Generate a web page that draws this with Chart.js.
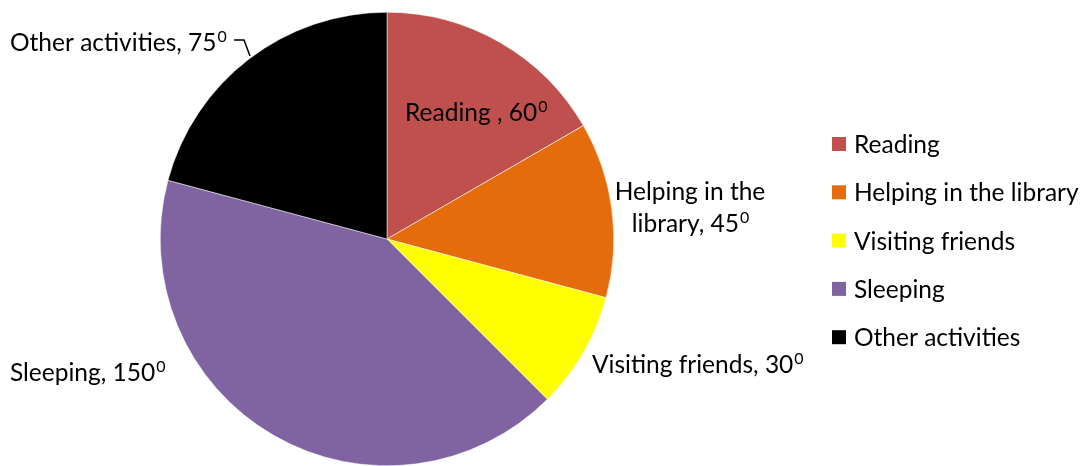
<!DOCTYPE html>
<html>
<head>
<meta charset="utf-8">
<script src="https://cdn.jsdelivr.net/npm/chart.js@4"></script>
<style>
  html, body { margin: 0; padding: 0; background: #fff; }
  #wrap { width: 1087px; height: 466px; }
</style>
</head>
<body>
<div id="wrap"><canvas id="pie"></canvas></div>
<script>
const activities = ["Reading", "Helping in the library", "Visiting friends", "Sleeping", "Other activities"];
const degrees = [60, 45, 30, 150, 75];
const colors = ["#C0504D", "#E46C0A", "#FFFF00", "#8064A2", "#000000"];

// slice label text lines (last line gets the value + degree mark)
const labelLines = [
  ["Reading , "],
  ["Helping in the", "library, "],
  ["Visiting friends, "],
  ["Sleeping, "],
  ["Other activities, "]
];
// x, y (baseline of first line), align
const labelPos = [
  [405, 121, "left"],
  [690, 200, "center"],
  [592, 373, "left"],
  [10, 381, "left"],
  [10, 51, "left"]
];

const FONT = "Lato, 'Noto Sans', sans-serif";
const SIZE = 24.5;

function textWithDeg(ctx, text, value, x, y, align) {
  ctx.font = SIZE + "px " + FONT;
  const main = text + value;
  const w1 = ctx.measureText(main).width;
  ctx.font = Math.round(SIZE * 0.65) + "px " + FONT;
  const w2 = ctx.measureText("0").width;
  let left = x;
  if (align === "center") left = x - (w1 + w2) / 2;
  ctx.textAlign = "left";
  ctx.font = SIZE + "px " + FONT;
  ctx.fillText(main, left, y);
  ctx.font = Math.round(SIZE * 0.65) + "px " + FONT;
  ctx.fillText("0", left + w1 + 1, y - 9);
}

const sliceLabels = {
  id: "sliceLabels",
  afterDatasetsDraw(chart) {
    const ctx = chart.ctx;
    ctx.save();
    ctx.fillStyle = "#000";
    ctx.textBaseline = "alphabetic";
    degrees.forEach((d, i) => {
      const [x, y, align] = labelPos[i];
      const lines = labelLines[i];
      lines.forEach((ln, j) => {
        const yy = y + j * 32;
        if (j === lines.length - 1) {
          textWithDeg(ctx, ln, d, x, yy, align);
        } else {
          ctx.font = SIZE + "px " + FONT;
          ctx.textAlign = align;
          ctx.fillText(ln, x, yy);
        }
      });
    });
    // leader line for the "Other activities" label
    ctx.strokeStyle = "#000";
    ctx.lineWidth = 1.5;
    ctx.beginPath();
    ctx.moveTo(234, 40);
    ctx.lineTo(244, 40);
    ctx.lineTo(250, 56);
    ctx.stroke();
    ctx.restore();
  }
};

const sideLegend = {
  id: "sideLegend",
  afterDraw(chart) {
    const ctx = chart.ctx;
    ctx.save();
    ctx.font = SIZE + "px " + FONT;
    ctx.textBaseline = "middle";
    ctx.textAlign = "left";
    activities.forEach((name, i) => {
      const y = 144 + i * 48.3;
      ctx.fillStyle = colors[i];
      ctx.fillRect(832, y - 7, 14, 14);
      ctx.fillStyle = "#000";
      ctx.fillText(name, 854, y + 1);
    });
    ctx.restore();
  }
};

new Chart(document.getElementById("pie"), {
  type: "pie",
  data: {
    labels: activities,
    datasets: [{
      data: degrees,
      backgroundColor: colors,
      borderWidth: 0.5,
      borderColor: "#ffffff"
    }]
  },
  options: {
    responsive: true,
    maintainAspectRatio: false,
    animation: false,
    layout: { padding: { left: 159, right: 472, top: 12, bottom: -2 } },
    plugins: {
      legend: { display: false },
      tooltip: { enabled: false }
    }
  },
  plugins: [sliceLabels, sideLegend]
});
</script>
</body>
</html>
